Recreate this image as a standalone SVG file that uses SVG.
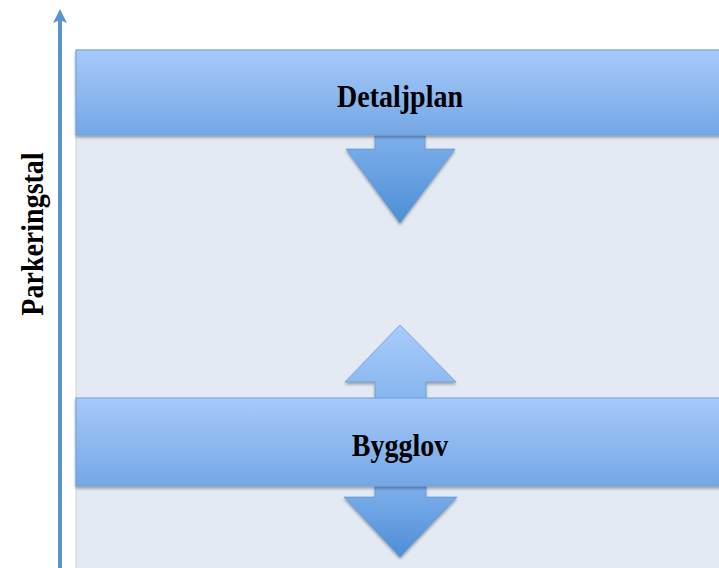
<svg xmlns="http://www.w3.org/2000/svg" width="719" height="568" viewBox="0 0 719 568">
<defs>
<linearGradient id="bar" x1="0" y1="0" x2="0" y2="1">
<stop offset="0" stop-color="#A7C9FB"/>
<stop offset="1" stop-color="#74A7E5"/>
</linearGradient>
<linearGradient id="down" x1="0" y1="0" x2="0" y2="1">
<stop offset="0" stop-color="#7EB0EC"/>
<stop offset="1" stop-color="#4E8ED6"/>
</linearGradient>
<linearGradient id="up" x1="0" y1="0" x2="0" y2="1">
<stop offset="0" stop-color="#A9CCFB"/>
<stop offset="1" stop-color="#86B5EE"/>
</linearGradient>
<filter id="sh" x="-10%" y="-10%" width="120%" height="130%">
<feGaussianBlur in="SourceAlpha" stdDeviation="1.5"/>
<feOffset dx="0" dy="2" result="b"/>
<feComponentTransfer><feFuncA type="linear" slope="0.35"/></feComponentTransfer>
<feMerge><feMergeNode/><feMergeNode in="SourceGraphic"/></feMerge>
</filter>
<style>
.lbl{font-family:"Liberation Serif","Times New Roman",serif;font-weight:bold;font-size:28px;fill:#000;text-anchor:middle}
.ar{stroke:#5A8FCB;stroke-width:0.6}
</style>
</defs>
<g id="background">
<rect x="76" y="50" width="650" height="530" fill="#E3EAF4" stroke="#CFD3D8" stroke-width="1"/>
</g>
<g id="axis">
<line x1="60" y1="568" x2="60" y2="20" stroke="#5B93CD" stroke-width="4"/>
<polygon points="60,9 67,23 60,20 53,23" fill="#5B93CD"/>
<text class="lbl" transform="translate(43,234) rotate(-90) scale(1,1.12)">Parkeringstal</text>
</g>
<g id="connectors">
<path id="arrow-down-1" class="ar" filter="url(#sh)" fill="url(#down)" d="M375,134 L425,134 L425,149 L455,149 L400,223 L346,149 L375,149 Z"/>
<path id="arrow-up" class="ar" filter="url(#sh)" fill="url(#up)" d="M400,325 L456,382 L426,382 L426,399 L375,399 L375,382 L345,382 Z"/>
<path id="arrow-down-2" class="ar" filter="url(#sh)" fill="url(#down)" d="M375,485 L426,485 L426,497 L457,497 L400,557 L344,497 L375,497 Z"/>
</g>
<g id="detaljplan">
<rect x="76" y="50" width="650" height="85" fill="url(#bar)" stroke="#6E9FDB" stroke-width="1" filter="url(#sh)"/>
<text class="lbl" transform="translate(400,107) scale(1,1.12)">Detaljplan</text>
</g>
<g id="bygglov">
<rect x="76" y="398" width="650" height="88" fill="url(#bar)" stroke="#6E9FDB" stroke-width="1" filter="url(#sh)"/>
<text class="lbl" transform="translate(400,456) scale(1,1.12)">Bygglov</text>
</g>
</svg>
